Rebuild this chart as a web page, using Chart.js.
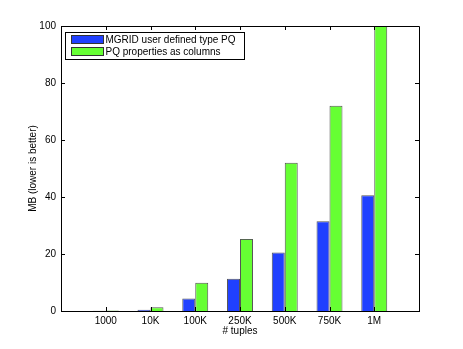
<!DOCTYPE html>
<html>
<head>
<meta charset="utf-8">
<script src="https://cdn.jsdelivr.net/npm/chart.js@4/dist/chart.umd.min.js"></script>
<style>
html,body{margin:0;padding:0;background:#fff;}
#wrap{width:463px;height:349px;}
</style>
</head>
<body>
<div id="wrap"><canvas id="c" width="463" height="349"></canvas></div>
<script>
const categories = ['1000', '10K', '100K', '250K', '500K', '750K', '1M'];
const seriesNames = ['MGRID user defined type PQ', 'PQ properties as columns'];
const mgridValues = [0.05, 0.4, 4.4, 11.3, 20.5, 31.5, 40.6];
const columnValues = [0.15, 1.3, 9.9, 25.3, 52.0, 72.0, 100.0];
const yTicks = [0, 20, 40, 60, 80, 100];
const xLabel = '# tuples';
const yLabel = 'MB (lower is better)';

const FONT = 'Liberation Sans, Arial, Helvetica, sans-serif';
const FSIZE = 10;

const toPoints = vals => vals.map((v, i) => ({x: i + 1, y: v}));

const boxPlugin = {
  id: 'matlabBox',
  afterDraw(chart) {
    const ctx = chart.ctx;
    const a = chart.chartArea;
    const xs = chart.scales.x, ys = chart.scales.y;
    ctx.save();
    ctx.strokeStyle = '#000';
    ctx.lineWidth = 1;
    ctx.beginPath();
    ctx.rect(Math.round(a.left) + 0.5, Math.round(a.top) + 0.5, Math.round(a.right - a.left), Math.round(a.bottom - a.top));
    ctx.stroke();
    const tl = 4;
    ctx.beginPath();
    yTicks.forEach(v => {
      const y = Math.round(ys.getPixelForValue(v)) + 0.5;
      ctx.moveTo(a.left, y); ctx.lineTo(a.left + tl, y);
      ctx.moveTo(a.right, y); ctx.lineTo(a.right - tl, y);
    });
    categories.forEach((c, i) => {
      const x = Math.round(xs.getPixelForValue(i + 1)) + 0.5;
      ctx.moveTo(x, a.bottom); ctx.lineTo(x, a.bottom - tl);
      ctx.moveTo(x, a.top); ctx.lineTo(x, a.top + tl);
    });
    ctx.stroke();

    // legend inside axes (top-left)
    const lx = 65.5, ly = 32.5, lw = 179, lh = 27;
    ctx.fillStyle = '#fff';
    ctx.fillRect(lx, ly, lw, lh);
    ctx.strokeStyle = '#000';
    ctx.strokeRect(lx, ly, lw, lh);
    ctx.font = FSIZE + 'px ' + FONT;
    ctx.textBaseline = 'middle';
    chart.data.datasets.forEach((ds, i) => {
      const cy = ly + 7 + i * 12;
      ctx.fillStyle = ds.backgroundColor;
      ctx.fillRect(lx + 6, cy - 4, 32, 8);
      ctx.strokeStyle = '#333';
      ctx.strokeRect(lx + 6, cy - 4, 32, 8);
      ctx.fillStyle = '#000';
      ctx.fillText(ds.label, lx + 40, cy + 0.5);
    });
    ctx.restore();
  }
};

new Chart(document.getElementById('c'), {
  type: 'bar',
  data: {
    datasets: [
      {label: seriesNames[0], data: toPoints(mgridValues), backgroundColor: '#2040ff', borderColor: '#555', borderWidth: 1, borderSkipped: 'bottom'},
      {label: seriesNames[1], data: toPoints(columnValues), backgroundColor: '#66ff33', borderColor: '#555', borderWidth: 1, borderSkipped: 'bottom'}
    ]
  },
  options: {
    responsive: false,
    animation: false,
    devicePixelRatio: 1,
    layout: {padding: {left: 0, top: 26, right: 44, bottom: 0}},
    plugins: {legend: {display: false}, tooltip: {enabled: false}},
    datasets: {bar: {categoryPercentage: 0.58, barPercentage: 1.0, grouped: true}},
    scales: {
      x: {
        type: 'linear',
        min: 0, max: 8,
        offset: false,
        afterFit(s) { s.height = 38; },
        afterBuildTicks(s) { s.ticks = categories.map((c, i) => ({value: i + 1})); },
        ticks: {
          autoSkip: false, maxRotation: 0, padding: 4,
          color: '#000', font: {family: FONT, size: FSIZE},
          callback: v => categories[v - 1] ?? ''
        },
        grid: {display: false, drawTicks: false},
        border: {display: true, color: '#000'},
        title: {display: true, text: xLabel, color: '#000', font: {family: FONT, size: FSIZE}, padding: {top: 0, bottom: 12}}
      },
      y: {
        min: 0, max: 100,
        afterFit(s) { s.width = 61; },
        afterBuildTicks(s) { s.ticks = yTicks.map(v => ({value: v})); },
        ticks: {color: '#000', font: {family: FONT, size: FSIZE}, padding: 5},
        grid: {display: false, drawTicks: false},
        border: {display: true, color: '#000'},
        title: {display: true, text: yLabel, color: '#000', font: {family: FONT, size: FSIZE}, padding: {top: 27, bottom: 0}}
      }
    }
  },
  plugins: [boxPlugin]
});
</script>
</body>
</html>
